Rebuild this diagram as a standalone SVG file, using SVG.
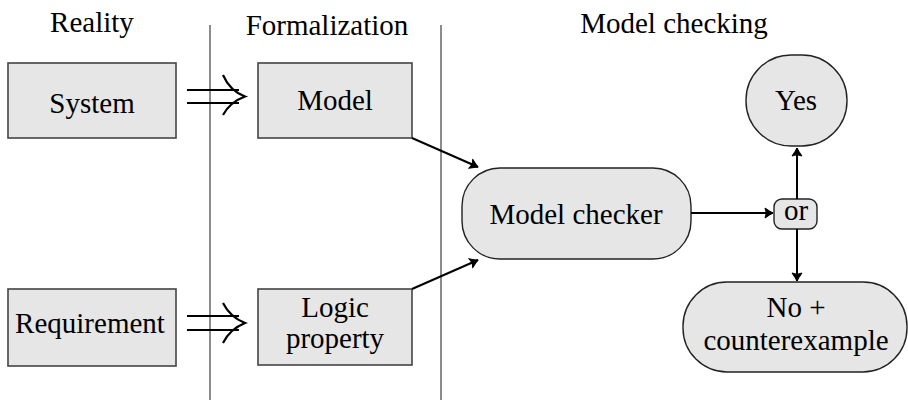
<svg xmlns="http://www.w3.org/2000/svg" width="908" height="400" viewBox="0 0 908 400">
<defs>
<marker id="ah" viewBox="-10 -6 12 12" refX="0" refY="0" markerWidth="12" markerHeight="12" markerUnits="userSpaceOnUse" orient="auto">
<path d="M-8,-5 Q-3,-1.5 0,0 Q-3,1.5 -8,5 Q-5.5,0 -8,-5 Z" fill="#000" stroke="#000" stroke-width="1" stroke-linejoin="round"/>
</marker>
</defs>
<style>
text{font-family:'Liberation Serif','Times New Roman',serif;font-size:29px;fill:#000;text-anchor:middle}
.box{fill:#e6e6e6;stroke:#444;stroke-width:1.6}
.rbox{fill:#e6e6e6;stroke:#222;stroke-width:1.4}
.sep{stroke:#666;stroke-width:1.5}
.edge{stroke:#000;stroke-width:2;fill:none}
.dbl{stroke:#000;stroke-width:2.2;fill:none;stroke-linecap:butt}
</style>
<g id="headers">
<text x="92" y="32">Reality</text>
<text x="327" y="35">Formalization</text>
<text x="674" y="33">Model checking</text>
</g>
<g id="separators">
<line class="sep" x1="210" y1="25" x2="210" y2="400"/>
<line class="sep" x1="441" y1="25" x2="441" y2="400"/>
</g>
<g id="system"><rect class="box" x="8" y="63" width="168" height="75"/><text x="92" y="113">System</text></g>
<g id="model"><rect class="box" x="258" y="63" width="154" height="75"/><text x="335" y="110">Model</text></g>
<g id="requirement"><rect class="box" x="8" y="289" width="168" height="77"/><text x="90" y="333">Requirement</text></g>
<g id="logic"><rect class="box" x="258" y="289" width="154" height="76"/><text x="335" y="317">Logic</text><text x="335" y="348">property</text></g>
<g id="checker"><rect class="rbox" x="462" y="168" width="229" height="91" rx="38"/><text x="576" y="224">Model checker</text></g>
<g id="yes"><rect class="rbox" x="746" y="55" width="101" height="91" rx="45"/><text x="796" y="110">Yes</text></g>
<g id="or"><rect class="rbox" x="774" y="199" width="43" height="30" rx="8"/><text x="796" y="220">or</text></g>
<g id="no"><rect class="rbox" x="683" y="282" width="224" height="90" rx="44"/><text x="796" y="317">No +</text><text x="796" y="350">counterexample</text></g>
<g id="connectors">
<path class="dbl" d="M187,90 H239 M187,103 H239"/>
<path class="dbl" d="M223,75 Q230,91 245,96.5 Q230,102 223,115"/>
<path class="dbl" d="M187,316 H239 M187,330 H239"/>
<path class="dbl" d="M223,303 Q230,317 245,323 Q230,329 223,343"/>
<line class="edge" x1="412" y1="138" x2="478" y2="167" marker-end="url(#ah)"/>
<line class="edge" x1="412" y1="289" x2="478" y2="260" marker-end="url(#ah)"/>
<line class="edge" x1="691" y1="213" x2="773" y2="213" marker-end="url(#ah)"/>
<line class="edge" x1="797" y1="199" x2="797" y2="148" marker-end="url(#ah)"/>
<line class="edge" x1="797" y1="229" x2="797" y2="281" marker-end="url(#ah)"/>
</g>
</svg>
